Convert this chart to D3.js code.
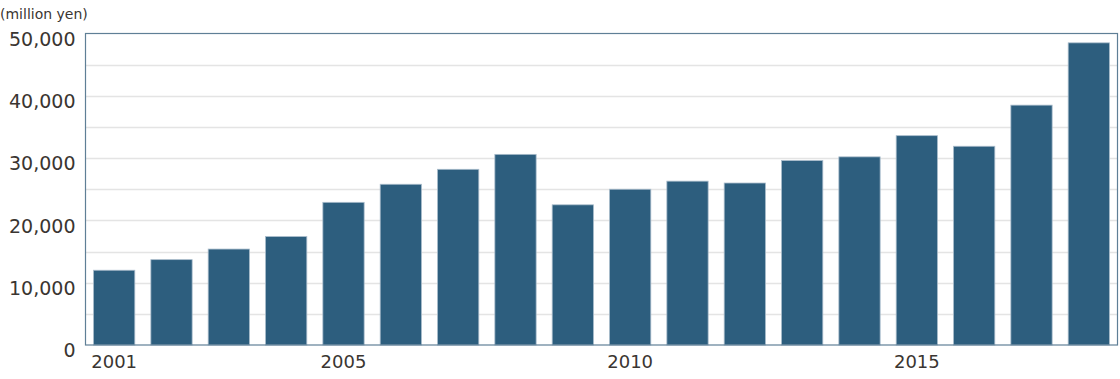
<!DOCTYPE html>
<html><head><meta charset="utf-8">
<script src="https://cdn.jsdelivr.net/npm/d3@7"></script>
<style>
html,body{margin:0;padding:0;background:#fff;}
svg{display:block;font-family:"DejaVu Sans",Verdana,sans-serif;}
</style></head>
<body><svg id="c" width="1120" height="379"></svg>
<script>
const years = [2001,2002,2003,2004,2005,2006,2007,2008,2009,2010,2011,2012,2013,2014,2015,2016,2017,2018];
const values = [12000,13700,15400,17400,22900,25800,28200,30600,22500,25000,26300,26000,29600,30200,33600,31900,38500,48500];
const yTicks = [0,10000,20000,30000,40000,50000];
const gridTicks = [5000,10000,15000,20000,25000,30000,35000,40000,45000];
const xLabelYears = [2001,2005,2010,2015];
const unitLabel = "(million yen)";

const svg = d3.select("#c");
const L = 85.5, R = 1117.5, T = 33.5, B = 345;
const x = d3.scaleBand().domain(years).range([L, R]).paddingInner(0.28).paddingOuter(0.14);
const y = d3.scaleLinear().domain([0, 50000]).range([B, T]);
const textColor = "#3a3531";

// grid
svg.append("g").selectAll("line").data(gridTicks).join("line")
  .attr("x1", L).attr("x2", R)
  .attr("y1", d => Math.round(y(d)) + 0.5).attr("y2", d => Math.round(y(d)) + 0.5)
  .attr("stroke", "#e4e4e4").attr("stroke-width", 1.5);

// bars
svg.append("g").selectAll("rect").data(values).join("rect")
  .attr("x", (d,i) => x(years[i]))
  .attr("width", x.bandwidth())
  .attr("y", d => y(d))
  .attr("height", d => B - y(d))
  .attr("fill", "#2d5e7e")
  .attr("stroke", "#a9bccb").attr("stroke-width", 0.8);

// frame
svg.append("rect").attr("x", L).attr("y", T).attr("width", R - L).attr("height", B - T)
  .attr("fill", "none").attr("stroke", "#5f7f96").attr("stroke-width", 1.2);

// y axis
const ya = svg.append("g").attr("transform", `translate(${L},0)`)
  .call(d3.axisLeft(y).tickValues(yTicks).tickFormat(d3.format(",")).tickSize(0).tickPadding(10));
ya.select(".domain").remove();
ya.selectAll("text").attr("font-size", 19).attr("fill", textColor)
  .attr("font-family", "DejaVu Sans").attr("dy", "0.62em");

// x axis
const xa = svg.append("g").attr("transform", `translate(0,${B})`)
  .call(d3.axisBottom(x).tickValues(xLabelYears).tickSize(0).tickPadding(8));
xa.select(".domain").remove();
xa.selectAll("text").attr("font-size", 18).attr("fill", textColor)
  .attr("font-family", "DejaVu Sans").attr("dy", "0.85em");

// unit label
svg.append("text").attr("x", 0).attr("y", 19).attr("font-size", 14)
  .attr("fill", textColor).text(unitLabel);
</script></body></html>
